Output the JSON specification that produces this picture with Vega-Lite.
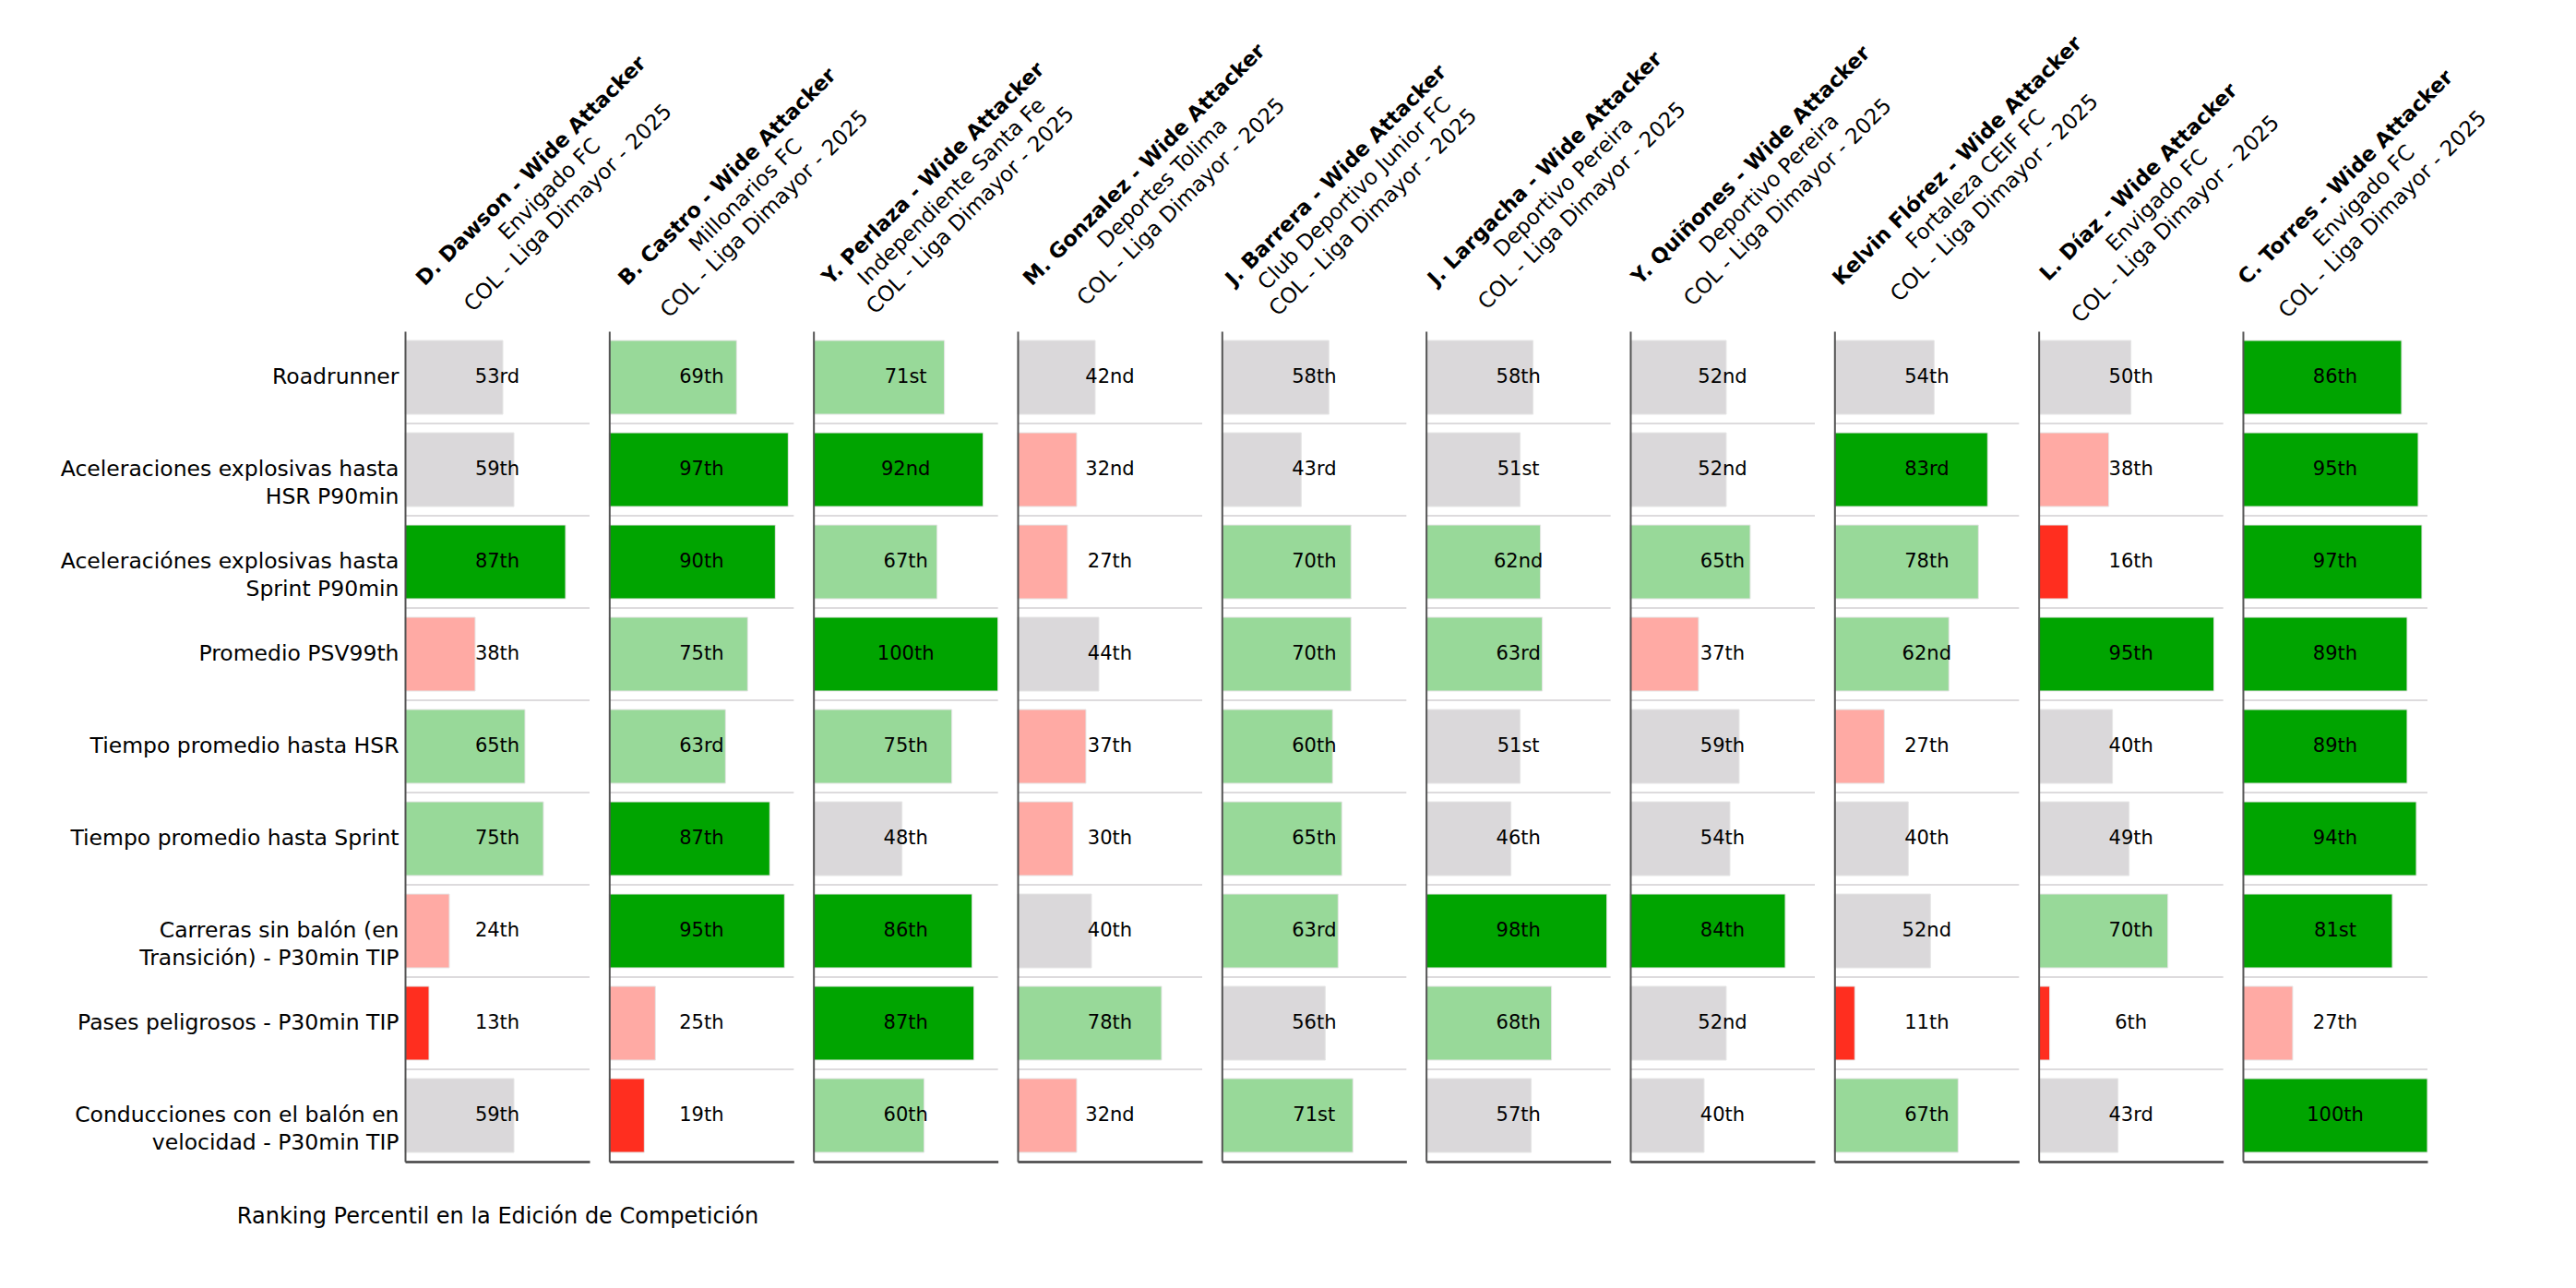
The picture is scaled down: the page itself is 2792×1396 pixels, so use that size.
{
  "$schema": "https://vega.github.io/schema/vega-lite/v6.json",
  "background": "white",
  "autosize": {"type": "pad"},
  "padding": {"left": 65, "top": 35, "right": 5, "bottom": 5},
  "config": {"font": "DejaVu Sans", "view": {"stroke": null}},
  "datasets": {
    "players": [
      {"player": "D. Dawson", "title": "D. Dawson - Wide Attacker", "sub": ["Envigado FC", "COL - Liga Dimayor - 2025"]},
      {"player": "B. Castro", "title": "B. Castro - Wide Attacker", "sub": ["Millonarios FC", "COL - Liga Dimayor - 2025"]},
      {"player": "Y. Perlaza", "title": "Y. Perlaza - Wide Attacker", "sub": ["Independiente Santa Fe", "COL - Liga Dimayor - 2025"]},
      {"player": "M. Gonzalez", "title": "M. Gonzalez - Wide Attacker", "sub": ["Deportes Tolima", "COL - Liga Dimayor - 2025"]},
      {"player": "J. Barrera", "title": "J. Barrera - Wide Attacker", "sub": ["Club Deportivo Junior FC", "COL - Liga Dimayor - 2025"]},
      {"player": "J. Largacha", "title": "J. Largacha - Wide Attacker", "sub": ["Deportivo Pereira", "COL - Liga Dimayor - 2025"]},
      {"player": "Y. Quiñones", "title": "Y. Quiñones - Wide Attacker", "sub": ["Deportivo Pereira", "COL - Liga Dimayor - 2025"]},
      {"player": "Kelvin Flórez", "title": "Kelvin Flórez - Wide Attacker", "sub": ["Fortaleza CEIF FC", "COL - Liga Dimayor - 2025"]},
      {"player": "L. Díaz", "title": "L. Díaz - Wide Attacker", "sub": ["Envigado FC", "COL - Liga Dimayor - 2025"]},
      {"player": "C. Torres", "title": "C. Torres - Wide Attacker", "sub": ["Envigado FC", "COL - Liga Dimayor - 2025"]}
    ],
    "pct": [
      {"player": "D. Dawson", "metric": "Roadrunner", "value": 53, "label": "53rd"},
      {"player": "D. Dawson", "metric": "Aceleraciones explosivas hasta\nHSR P90min", "value": 59, "label": "59th"},
      {"player": "D. Dawson", "metric": "Aceleraciónes explosivas hasta\nSprint P90min", "value": 87, "label": "87th"},
      {"player": "D. Dawson", "metric": "Promedio PSV99th", "value": 38, "label": "38th"},
      {"player": "D. Dawson", "metric": "Tiempo promedio hasta HSR", "value": 65, "label": "65th"},
      {"player": "D. Dawson", "metric": "Tiempo promedio hasta Sprint", "value": 75, "label": "75th"},
      {"player": "D. Dawson", "metric": "Carreras sin balón (en\nTransición) - P30min TIP", "value": 24, "label": "24th"},
      {"player": "D. Dawson", "metric": "Pases peligrosos - P30min TIP", "value": 13, "label": "13th"},
      {"player": "D. Dawson", "metric": "Conducciones con el balón en\nvelocidad - P30min TIP", "value": 59, "label": "59th"},
      {"player": "B. Castro", "metric": "Roadrunner", "value": 69, "label": "69th"},
      {"player": "B. Castro", "metric": "Aceleraciones explosivas hasta\nHSR P90min", "value": 97, "label": "97th"},
      {"player": "B. Castro", "metric": "Aceleraciónes explosivas hasta\nSprint P90min", "value": 90, "label": "90th"},
      {"player": "B. Castro", "metric": "Promedio PSV99th", "value": 75, "label": "75th"},
      {"player": "B. Castro", "metric": "Tiempo promedio hasta HSR", "value": 63, "label": "63rd"},
      {"player": "B. Castro", "metric": "Tiempo promedio hasta Sprint", "value": 87, "label": "87th"},
      {"player": "B. Castro", "metric": "Carreras sin balón (en\nTransición) - P30min TIP", "value": 95, "label": "95th"},
      {"player": "B. Castro", "metric": "Pases peligrosos - P30min TIP", "value": 25, "label": "25th"},
      {"player": "B. Castro", "metric": "Conducciones con el balón en\nvelocidad - P30min TIP", "value": 19, "label": "19th"},
      {"player": "Y. Perlaza", "metric": "Roadrunner", "value": 71, "label": "71st"},
      {"player": "Y. Perlaza", "metric": "Aceleraciones explosivas hasta\nHSR P90min", "value": 92, "label": "92nd"},
      {"player": "Y. Perlaza", "metric": "Aceleraciónes explosivas hasta\nSprint P90min", "value": 67, "label": "67th"},
      {"player": "Y. Perlaza", "metric": "Promedio PSV99th", "value": 100, "label": "100th"},
      {"player": "Y. Perlaza", "metric": "Tiempo promedio hasta HSR", "value": 75, "label": "75th"},
      {"player": "Y. Perlaza", "metric": "Tiempo promedio hasta Sprint", "value": 48, "label": "48th"},
      {"player": "Y. Perlaza", "metric": "Carreras sin balón (en\nTransición) - P30min TIP", "value": 86, "label": "86th"},
      {"player": "Y. Perlaza", "metric": "Pases peligrosos - P30min TIP", "value": 87, "label": "87th"},
      {"player": "Y. Perlaza", "metric": "Conducciones con el balón en\nvelocidad - P30min TIP", "value": 60, "label": "60th"},
      {"player": "M. Gonzalez", "metric": "Roadrunner", "value": 42, "label": "42nd"},
      {"player": "M. Gonzalez", "metric": "Aceleraciones explosivas hasta\nHSR P90min", "value": 32, "label": "32nd"},
      {"player": "M. Gonzalez", "metric": "Aceleraciónes explosivas hasta\nSprint P90min", "value": 27, "label": "27th"},
      {"player": "M. Gonzalez", "metric": "Promedio PSV99th", "value": 44, "label": "44th"},
      {"player": "M. Gonzalez", "metric": "Tiempo promedio hasta HSR", "value": 37, "label": "37th"},
      {"player": "M. Gonzalez", "metric": "Tiempo promedio hasta Sprint", "value": 30, "label": "30th"},
      {"player": "M. Gonzalez", "metric": "Carreras sin balón (en\nTransición) - P30min TIP", "value": 40, "label": "40th"},
      {"player": "M. Gonzalez", "metric": "Pases peligrosos - P30min TIP", "value": 78, "label": "78th"},
      {"player": "M. Gonzalez", "metric": "Conducciones con el balón en\nvelocidad - P30min TIP", "value": 32, "label": "32nd"},
      {"player": "J. Barrera", "metric": "Roadrunner", "value": 58, "label": "58th"},
      {"player": "J. Barrera", "metric": "Aceleraciones explosivas hasta\nHSR P90min", "value": 43, "label": "43rd"},
      {"player": "J. Barrera", "metric": "Aceleraciónes explosivas hasta\nSprint P90min", "value": 70, "label": "70th"},
      {"player": "J. Barrera", "metric": "Promedio PSV99th", "value": 70, "label": "70th"},
      {"player": "J. Barrera", "metric": "Tiempo promedio hasta HSR", "value": 60, "label": "60th"},
      {"player": "J. Barrera", "metric": "Tiempo promedio hasta Sprint", "value": 65, "label": "65th"},
      {"player": "J. Barrera", "metric": "Carreras sin balón (en\nTransición) - P30min TIP", "value": 63, "label": "63rd"},
      {"player": "J. Barrera", "metric": "Pases peligrosos - P30min TIP", "value": 56, "label": "56th"},
      {"player": "J. Barrera", "metric": "Conducciones con el balón en\nvelocidad - P30min TIP", "value": 71, "label": "71st"},
      {"player": "J. Largacha", "metric": "Roadrunner", "value": 58, "label": "58th"},
      {"player": "J. Largacha", "metric": "Aceleraciones explosivas hasta\nHSR P90min", "value": 51, "label": "51st"},
      {"player": "J. Largacha", "metric": "Aceleraciónes explosivas hasta\nSprint P90min", "value": 62, "label": "62nd"},
      {"player": "J. Largacha", "metric": "Promedio PSV99th", "value": 63, "label": "63rd"},
      {"player": "J. Largacha", "metric": "Tiempo promedio hasta HSR", "value": 51, "label": "51st"},
      {"player": "J. Largacha", "metric": "Tiempo promedio hasta Sprint", "value": 46, "label": "46th"},
      {"player": "J. Largacha", "metric": "Carreras sin balón (en\nTransición) - P30min TIP", "value": 98, "label": "98th"},
      {"player": "J. Largacha", "metric": "Pases peligrosos - P30min TIP", "value": 68, "label": "68th"},
      {"player": "J. Largacha", "metric": "Conducciones con el balón en\nvelocidad - P30min TIP", "value": 57, "label": "57th"},
      {"player": "Y. Quiñones", "metric": "Roadrunner", "value": 52, "label": "52nd"},
      {"player": "Y. Quiñones", "metric": "Aceleraciones explosivas hasta\nHSR P90min", "value": 52, "label": "52nd"},
      {"player": "Y. Quiñones", "metric": "Aceleraciónes explosivas hasta\nSprint P90min", "value": 65, "label": "65th"},
      {"player": "Y. Quiñones", "metric": "Promedio PSV99th", "value": 37, "label": "37th"},
      {"player": "Y. Quiñones", "metric": "Tiempo promedio hasta HSR", "value": 59, "label": "59th"},
      {"player": "Y. Quiñones", "metric": "Tiempo promedio hasta Sprint", "value": 54, "label": "54th"},
      {"player": "Y. Quiñones", "metric": "Carreras sin balón (en\nTransición) - P30min TIP", "value": 84, "label": "84th"},
      {"player": "Y. Quiñones", "metric": "Pases peligrosos - P30min TIP", "value": 52, "label": "52nd"},
      {"player": "Y. Quiñones", "metric": "Conducciones con el balón en\nvelocidad - P30min TIP", "value": 40, "label": "40th"},
      {"player": "Kelvin Flórez", "metric": "Roadrunner", "value": 54, "label": "54th"},
      {"player": "Kelvin Flórez", "metric": "Aceleraciones explosivas hasta\nHSR P90min", "value": 83, "label": "83rd"},
      {"player": "Kelvin Flórez", "metric": "Aceleraciónes explosivas hasta\nSprint P90min", "value": 78, "label": "78th"},
      {"player": "Kelvin Flórez", "metric": "Promedio PSV99th", "value": 62, "label": "62nd"},
      {"player": "Kelvin Flórez", "metric": "Tiempo promedio hasta HSR", "value": 27, "label": "27th"},
      {"player": "Kelvin Flórez", "metric": "Tiempo promedio hasta Sprint", "value": 40, "label": "40th"},
      {"player": "Kelvin Flórez", "metric": "Carreras sin balón (en\nTransición) - P30min TIP", "value": 52, "label": "52nd"},
      {"player": "Kelvin Flórez", "metric": "Pases peligrosos - P30min TIP", "value": 11, "label": "11th"},
      {"player": "Kelvin Flórez", "metric": "Conducciones con el balón en\nvelocidad - P30min TIP", "value": 67, "label": "67th"},
      {"player": "L. Díaz", "metric": "Roadrunner", "value": 50, "label": "50th"},
      {"player": "L. Díaz", "metric": "Aceleraciones explosivas hasta\nHSR P90min", "value": 38, "label": "38th"},
      {"player": "L. Díaz", "metric": "Aceleraciónes explosivas hasta\nSprint P90min", "value": 16, "label": "16th"},
      {"player": "L. Díaz", "metric": "Promedio PSV99th", "value": 95, "label": "95th"},
      {"player": "L. Díaz", "metric": "Tiempo promedio hasta HSR", "value": 40, "label": "40th"},
      {"player": "L. Díaz", "metric": "Tiempo promedio hasta Sprint", "value": 49, "label": "49th"},
      {"player": "L. Díaz", "metric": "Carreras sin balón (en\nTransición) - P30min TIP", "value": 70, "label": "70th"},
      {"player": "L. Díaz", "metric": "Pases peligrosos - P30min TIP", "value": 6, "label": "6th"},
      {"player": "L. Díaz", "metric": "Conducciones con el balón en\nvelocidad - P30min TIP", "value": 43, "label": "43rd"},
      {"player": "C. Torres", "metric": "Roadrunner", "value": 86, "label": "86th"},
      {"player": "C. Torres", "metric": "Aceleraciones explosivas hasta\nHSR P90min", "value": 95, "label": "95th"},
      {"player": "C. Torres", "metric": "Aceleraciónes explosivas hasta\nSprint P90min", "value": 97, "label": "97th"},
      {"player": "C. Torres", "metric": "Promedio PSV99th", "value": 89, "label": "89th"},
      {"player": "C. Torres", "metric": "Tiempo promedio hasta HSR", "value": 89, "label": "89th"},
      {"player": "C. Torres", "metric": "Tiempo promedio hasta Sprint", "value": 94, "label": "94th"},
      {"player": "C. Torres", "metric": "Carreras sin balón (en\nTransición) - P30min TIP", "value": 81, "label": "81st"},
      {"player": "C. Torres", "metric": "Pases peligrosos - P30min TIP", "value": 27, "label": "27th"},
      {"player": "C. Torres", "metric": "Conducciones con el balón en\nvelocidad - P30min TIP", "value": 100, "label": "100th"}
    ]
  },
  "spacing": 21.33,
  "bounds": "flush",
  "hconcat": [
    {
      "width": 200, "height": 900,
      "data": {"name": "pct"},
      "transform": [{"filter": "datum.player === 'D. Dawson'"}],
      "encoding": {"y": {"field": "metric", "type": "nominal", "sort": null,
        "scale": {"type": "band", "paddingInner": 0, "paddingOuter": 0, "domain": ["Roadrunner", "Aceleraciones explosivas hasta\nHSR P90min", "Aceleraciónes explosivas hasta\nSprint P90min", "Promedio PSV99th", "Tiempo promedio hasta HSR", "Tiempo promedio hasta Sprint", "Carreras sin balón (en\nTransición) - P30min TIP", "Pases peligrosos - P30min TIP", "Conducciones con el balón en\nvelocidad - P30min TIP"]},
        "axis": {"title": null, "domainColor": "#555555", "domainWidth": 2, "ticks": false, "grid": false, "labels": true, "labelFontSize": 23.5, "labelColor": "#000000", "labelPadding": 7, "labelLimit": 0, "labelLineHeight": 30, "labelExpr": "split(datum.label, '\\n')", "zindex": 1}}},
      "layer": [
        {"mark": {"type": "rule", "color": "#dddbdd", "strokeWidth": 2}, "encoding": {"y": {"field": "metric", "type": "nominal", "sort": null, "bandPosition": 1}, "x": {"datum": 0}, "x2": {"datum": 100}}},
        {"mark": {"type": "bar", "height": {"band": 0.8}, "stroke": "#e6e6e6", "strokeWidth": 1},
          "encoding": {"x": {"field": "value", "type": "quantitative", "scale": {"domain": [0, 100], "nice": false, "zero": true},
            "axis": {"title": "Ranking Percentil en la Edición de Competición", "titleFontSize": 24, "titleFontWeight": "normal", "titleColor": "#000000", "titlePadding": 47, "domainColor": "#444444", "domainWidth": 2.5, "ticks": false, "labels": false, "grid": false, "zindex": 1}},
            "color": {"field": "value", "type": "quantitative", "scale": {"type": "threshold", "domain": [20, 40, 60, 80], "range": ["#ff2e1f", "#ffaaa4", "#dad8da", "#98d999", "#00a400"]}, "legend": null}}},
        {"mark": {"type": "text", "fontSize": 21, "color": "#000000"}, "encoding": {"x": {"datum": 50}, "text": {"field": "label"}}},
        {"data": {"name": "players"}, "transform": [{"filter": "datum.player === 'D. Dawson'"}],
          "mark": {"type": "text", "angle": -45, "align": "center", "baseline": "top", "fontSize": 22.6, "fontWeight": "bold", "color": "#000000", "dx": 219.6, "dy": -37.0},
          "encoding": {"x": {"datum": 0}, "y": {"datum": "Roadrunner", "type": "nominal", "bandPosition": 0}, "text": {"field": "title"}}},
        {"data": {"name": "players"}, "transform": [{"filter": "datum.player === 'D. Dawson'"}],
          "mark": {"type": "text", "angle": -45, "align": "center", "baseline": "top", "fontSize": 23.2, "lineHeight": 28.6, "color": "#000000", "dx": 219.6, "dy": -8.7},
          "encoding": {"x": {"datum": 0}, "y": {"datum": "Roadrunner", "type": "nominal", "bandPosition": 0}, "text": {"field": "sub"}}}
      ]
    },
    {
      "width": 200, "height": 900,
      "data": {"name": "pct"},
      "transform": [{"filter": "datum.player === 'B. Castro'"}],
      "encoding": {"y": {"field": "metric", "type": "nominal", "sort": null,
        "scale": {"type": "band", "paddingInner": 0, "paddingOuter": 0, "domain": ["Roadrunner", "Aceleraciones explosivas hasta\nHSR P90min", "Aceleraciónes explosivas hasta\nSprint P90min", "Promedio PSV99th", "Tiempo promedio hasta HSR", "Tiempo promedio hasta Sprint", "Carreras sin balón (en\nTransición) - P30min TIP", "Pases peligrosos - P30min TIP", "Conducciones con el balón en\nvelocidad - P30min TIP"]},
        "axis": {"title": null, "domainColor": "#555555", "domainWidth": 2, "ticks": false, "grid": false, "labels": false, "zindex": 1}}},
      "layer": [
        {"mark": {"type": "rule", "color": "#dddbdd", "strokeWidth": 2}, "encoding": {"y": {"field": "metric", "type": "nominal", "sort": null, "bandPosition": 1}, "x": {"datum": 0}, "x2": {"datum": 100}}},
        {"mark": {"type": "bar", "height": {"band": 0.8}, "stroke": "#e6e6e6", "strokeWidth": 1},
          "encoding": {"x": {"field": "value", "type": "quantitative", "scale": {"domain": [0, 100], "nice": false, "zero": true}, "axis": {"title": null, "domainColor": "#444444", "domainWidth": 2.5, "ticks": false, "labels": false, "grid": false, "zindex": 1}},
            "color": {"field": "value", "type": "quantitative", "scale": {"type": "threshold", "domain": [20, 40, 60, 80], "range": ["#ff2e1f", "#ffaaa4", "#dad8da", "#98d999", "#00a400"]}, "legend": null}}},
        {"mark": {"type": "text", "fontSize": 21, "color": "#000000"}, "encoding": {"x": {"datum": 50}, "text": {"field": "label"}}},
        {"data": {"name": "players"}, "transform": [{"filter": "datum.player === 'B. Castro'"}],
          "mark": {"type": "text", "angle": -45, "align": "center", "baseline": "top", "fontSize": 22.6, "fontWeight": "bold", "color": "#000000", "dx": 208.8, "dy": -38.5},
          "encoding": {"x": {"datum": 0}, "y": {"datum": "Roadrunner", "type": "nominal", "bandPosition": 0}, "text": {"field": "title"}}},
        {"data": {"name": "players"}, "transform": [{"filter": "datum.player === 'B. Castro'"}],
          "mark": {"type": "text", "angle": -45, "align": "center", "baseline": "top", "fontSize": 23.2, "lineHeight": 28.6, "color": "#000000", "dx": 208.8, "dy": -10.2},
          "encoding": {"x": {"datum": 0}, "y": {"datum": "Roadrunner", "type": "nominal", "bandPosition": 0}, "text": {"field": "sub"}}}
      ]
    },
    {
      "width": 200, "height": 900,
      "data": {"name": "pct"},
      "transform": [{"filter": "datum.player === 'Y. Perlaza'"}],
      "encoding": {"y": {"field": "metric", "type": "nominal", "sort": null,
        "scale": {"type": "band", "paddingInner": 0, "paddingOuter": 0, "domain": ["Roadrunner", "Aceleraciones explosivas hasta\nHSR P90min", "Aceleraciónes explosivas hasta\nSprint P90min", "Promedio PSV99th", "Tiempo promedio hasta HSR", "Tiempo promedio hasta Sprint", "Carreras sin balón (en\nTransición) - P30min TIP", "Pases peligrosos - P30min TIP", "Conducciones con el balón en\nvelocidad - P30min TIP"]},
        "axis": {"title": null, "domainColor": "#555555", "domainWidth": 2, "ticks": false, "grid": false, "labels": false, "zindex": 1}}},
      "layer": [
        {"mark": {"type": "rule", "color": "#dddbdd", "strokeWidth": 2}, "encoding": {"y": {"field": "metric", "type": "nominal", "sort": null, "bandPosition": 1}, "x": {"datum": 0}, "x2": {"datum": 100}}},
        {"mark": {"type": "bar", "height": {"band": 0.8}, "stroke": "#e6e6e6", "strokeWidth": 1},
          "encoding": {"x": {"field": "value", "type": "quantitative", "scale": {"domain": [0, 100], "nice": false, "zero": true}, "axis": {"title": null, "domainColor": "#444444", "domainWidth": 2.5, "ticks": false, "labels": false, "grid": false, "zindex": 1}},
            "color": {"field": "value", "type": "quantitative", "scale": {"type": "threshold", "domain": [20, 40, 60, 80], "range": ["#ff2e1f", "#ffaaa4", "#dad8da", "#98d999", "#00a400"]}, "legend": null}}},
        {"mark": {"type": "text", "fontSize": 21, "color": "#000000"}, "encoding": {"x": {"datum": 50}, "text": {"field": "label"}}},
        {"data": {"name": "players"}, "transform": [{"filter": "datum.player === 'Y. Perlaza'"}],
          "mark": {"type": "text", "angle": -45, "align": "center", "baseline": "top", "fontSize": 22.6, "fontWeight": "bold", "color": "#000000", "dx": 212.8, "dy": -39.9},
          "encoding": {"x": {"datum": 0}, "y": {"datum": "Roadrunner", "type": "nominal", "bandPosition": 0}, "text": {"field": "title"}}},
        {"data": {"name": "players"}, "transform": [{"filter": "datum.player === 'Y. Perlaza'"}],
          "mark": {"type": "text", "angle": -45, "align": "center", "baseline": "top", "fontSize": 23.2, "lineHeight": 28.6, "color": "#000000", "dx": 212.8, "dy": -11.6},
          "encoding": {"x": {"datum": 0}, "y": {"datum": "Roadrunner", "type": "nominal", "bandPosition": 0}, "text": {"field": "sub"}}}
      ]
    },
    {
      "width": 200, "height": 900,
      "data": {"name": "pct"},
      "transform": [{"filter": "datum.player === 'M. Gonzalez'"}],
      "encoding": {"y": {"field": "metric", "type": "nominal", "sort": null,
        "scale": {"type": "band", "paddingInner": 0, "paddingOuter": 0, "domain": ["Roadrunner", "Aceleraciones explosivas hasta\nHSR P90min", "Aceleraciónes explosivas hasta\nSprint P90min", "Promedio PSV99th", "Tiempo promedio hasta HSR", "Tiempo promedio hasta Sprint", "Carreras sin balón (en\nTransición) - P30min TIP", "Pases peligrosos - P30min TIP", "Conducciones con el balón en\nvelocidad - P30min TIP"]},
        "axis": {"title": null, "domainColor": "#555555", "domainWidth": 2, "ticks": false, "grid": false, "labels": false, "zindex": 1}}},
      "layer": [
        {"mark": {"type": "rule", "color": "#dddbdd", "strokeWidth": 2}, "encoding": {"y": {"field": "metric", "type": "nominal", "sort": null, "bandPosition": 1}, "x": {"datum": 0}, "x2": {"datum": 100}}},
        {"mark": {"type": "bar", "height": {"band": 0.8}, "stroke": "#e6e6e6", "strokeWidth": 1},
          "encoding": {"x": {"field": "value", "type": "quantitative", "scale": {"domain": [0, 100], "nice": false, "zero": true}, "axis": {"title": null, "domainColor": "#444444", "domainWidth": 2.5, "ticks": false, "labels": false, "grid": false, "zindex": 1}},
            "color": {"field": "value", "type": "quantitative", "scale": {"type": "threshold", "domain": [20, 40, 60, 80], "range": ["#ff2e1f", "#ffaaa4", "#dad8da", "#98d999", "#00a400"]}, "legend": null}}},
        {"mark": {"type": "text", "fontSize": 21, "color": "#000000"}, "encoding": {"x": {"datum": 50}, "text": {"field": "label"}}},
        {"data": {"name": "players"}, "transform": [{"filter": "datum.player === 'M. Gonzalez'"}],
          "mark": {"type": "text", "angle": -45, "align": "center", "baseline": "top", "fontSize": 22.6, "fontWeight": "bold", "color": "#000000", "dx": 224.6, "dy": -41.3},
          "encoding": {"x": {"datum": 0}, "y": {"datum": "Roadrunner", "type": "nominal", "bandPosition": 0}, "text": {"field": "title"}}},
        {"data": {"name": "players"}, "transform": [{"filter": "datum.player === 'M. Gonzalez'"}],
          "mark": {"type": "text", "angle": -45, "align": "center", "baseline": "top", "fontSize": 23.2, "lineHeight": 28.6, "color": "#000000", "dx": 224.6, "dy": -13.0},
          "encoding": {"x": {"datum": 0}, "y": {"datum": "Roadrunner", "type": "nominal", "bandPosition": 0}, "text": {"field": "sub"}}}
      ]
    },
    {
      "width": 200, "height": 900,
      "data": {"name": "pct"},
      "transform": [{"filter": "datum.player === 'J. Barrera'"}],
      "encoding": {"y": {"field": "metric", "type": "nominal", "sort": null,
        "scale": {"type": "band", "paddingInner": 0, "paddingOuter": 0, "domain": ["Roadrunner", "Aceleraciones explosivas hasta\nHSR P90min", "Aceleraciónes explosivas hasta\nSprint P90min", "Promedio PSV99th", "Tiempo promedio hasta HSR", "Tiempo promedio hasta Sprint", "Carreras sin balón (en\nTransición) - P30min TIP", "Pases peligrosos - P30min TIP", "Conducciones con el balón en\nvelocidad - P30min TIP"]},
        "axis": {"title": null, "domainColor": "#555555", "domainWidth": 2, "ticks": false, "grid": false, "labels": false, "zindex": 1}}},
      "layer": [
        {"mark": {"type": "rule", "color": "#dddbdd", "strokeWidth": 2}, "encoding": {"y": {"field": "metric", "type": "nominal", "sort": null, "bandPosition": 1}, "x": {"datum": 0}, "x2": {"datum": 100}}},
        {"mark": {"type": "bar", "height": {"band": 0.8}, "stroke": "#e6e6e6", "strokeWidth": 1},
          "encoding": {"x": {"field": "value", "type": "quantitative", "scale": {"domain": [0, 100], "nice": false, "zero": true}, "axis": {"title": null, "domainColor": "#444444", "domainWidth": 2.5, "ticks": false, "labels": false, "grid": false, "zindex": 1}},
            "color": {"field": "value", "type": "quantitative", "scale": {"type": "threshold", "domain": [20, 40, 60, 80], "range": ["#ff2e1f", "#ffaaa4", "#dad8da", "#98d999", "#00a400"]}, "legend": null}}},
        {"mark": {"type": "text", "fontSize": 21, "color": "#000000"}, "encoding": {"x": {"datum": 50}, "text": {"field": "label"}}},
        {"data": {"name": "players"}, "transform": [{"filter": "datum.player === 'J. Barrera'"}],
          "mark": {"type": "text", "angle": -45, "align": "center", "baseline": "top", "fontSize": 22.6, "fontWeight": "bold", "color": "#000000", "dx": 207.0, "dy": -42.8},
          "encoding": {"x": {"datum": 0}, "y": {"datum": "Roadrunner", "type": "nominal", "bandPosition": 0}, "text": {"field": "title"}}},
        {"data": {"name": "players"}, "transform": [{"filter": "datum.player === 'J. Barrera'"}],
          "mark": {"type": "text", "angle": -45, "align": "center", "baseline": "top", "fontSize": 23.2, "lineHeight": 28.6, "color": "#000000", "dx": 207.0, "dy": -14.5},
          "encoding": {"x": {"datum": 0}, "y": {"datum": "Roadrunner", "type": "nominal", "bandPosition": 0}, "text": {"field": "sub"}}}
      ]
    },
    {
      "width": 200, "height": 900,
      "data": {"name": "pct"},
      "transform": [{"filter": "datum.player === 'J. Largacha'"}],
      "encoding": {"y": {"field": "metric", "type": "nominal", "sort": null,
        "scale": {"type": "band", "paddingInner": 0, "paddingOuter": 0, "domain": ["Roadrunner", "Aceleraciones explosivas hasta\nHSR P90min", "Aceleraciónes explosivas hasta\nSprint P90min", "Promedio PSV99th", "Tiempo promedio hasta HSR", "Tiempo promedio hasta Sprint", "Carreras sin balón (en\nTransición) - P30min TIP", "Pases peligrosos - P30min TIP", "Conducciones con el balón en\nvelocidad - P30min TIP"]},
        "axis": {"title": null, "domainColor": "#555555", "domainWidth": 2, "ticks": false, "grid": false, "labels": false, "zindex": 1}}},
      "layer": [
        {"mark": {"type": "rule", "color": "#dddbdd", "strokeWidth": 2}, "encoding": {"y": {"field": "metric", "type": "nominal", "sort": null, "bandPosition": 1}, "x": {"datum": 0}, "x2": {"datum": 100}}},
        {"mark": {"type": "bar", "height": {"band": 0.8}, "stroke": "#e6e6e6", "strokeWidth": 1},
          "encoding": {"x": {"field": "value", "type": "quantitative", "scale": {"domain": [0, 100], "nice": false, "zero": true}, "axis": {"title": null, "domainColor": "#444444", "domainWidth": 2.5, "ticks": false, "labels": false, "grid": false, "zindex": 1}},
            "color": {"field": "value", "type": "quantitative", "scale": {"type": "threshold", "domain": [20, 40, 60, 80], "range": ["#ff2e1f", "#ffaaa4", "#dad8da", "#98d999", "#00a400"]}, "legend": null}}},
        {"mark": {"type": "text", "fontSize": 21, "color": "#000000"}, "encoding": {"x": {"datum": 50}, "text": {"field": "label"}}},
        {"data": {"name": "players"}, "transform": [{"filter": "datum.player === 'J. Largacha'"}],
          "mark": {"type": "text", "angle": -45, "align": "center", "baseline": "top", "fontSize": 22.6, "fontWeight": "bold", "color": "#000000", "dx": 215.7, "dy": -44.2},
          "encoding": {"x": {"datum": 0}, "y": {"datum": "Roadrunner", "type": "nominal", "bandPosition": 0}, "text": {"field": "title"}}},
        {"data": {"name": "players"}, "transform": [{"filter": "datum.player === 'J. Largacha'"}],
          "mark": {"type": "text", "angle": -45, "align": "center", "baseline": "top", "fontSize": 23.2, "lineHeight": 28.6, "color": "#000000", "dx": 215.7, "dy": -15.9},
          "encoding": {"x": {"datum": 0}, "y": {"datum": "Roadrunner", "type": "nominal", "bandPosition": 0}, "text": {"field": "sub"}}}
      ]
    },
    {
      "width": 200, "height": 900,
      "data": {"name": "pct"},
      "transform": [{"filter": "datum.player === 'Y. Quiñones'"}],
      "encoding": {"y": {"field": "metric", "type": "nominal", "sort": null,
        "scale": {"type": "band", "paddingInner": 0, "paddingOuter": 0, "domain": ["Roadrunner", "Aceleraciones explosivas hasta\nHSR P90min", "Aceleraciónes explosivas hasta\nSprint P90min", "Promedio PSV99th", "Tiempo promedio hasta HSR", "Tiempo promedio hasta Sprint", "Carreras sin balón (en\nTransición) - P30min TIP", "Pases peligrosos - P30min TIP", "Conducciones con el balón en\nvelocidad - P30min TIP"]},
        "axis": {"title": null, "domainColor": "#555555", "domainWidth": 2, "ticks": false, "grid": false, "labels": false, "zindex": 1}}},
      "layer": [
        {"mark": {"type": "rule", "color": "#dddbdd", "strokeWidth": 2}, "encoding": {"y": {"field": "metric", "type": "nominal", "sort": null, "bandPosition": 1}, "x": {"datum": 0}, "x2": {"datum": 100}}},
        {"mark": {"type": "bar", "height": {"band": 0.8}, "stroke": "#e6e6e6", "strokeWidth": 1},
          "encoding": {"x": {"field": "value", "type": "quantitative", "scale": {"domain": [0, 100], "nice": false, "zero": true}, "axis": {"title": null, "domainColor": "#444444", "domainWidth": 2.5, "ticks": false, "labels": false, "grid": false, "zindex": 1}},
            "color": {"field": "value", "type": "quantitative", "scale": {"type": "threshold", "domain": [20, 40, 60, 80], "range": ["#ff2e1f", "#ffaaa4", "#dad8da", "#98d999", "#00a400"]}, "legend": null}}},
        {"mark": {"type": "text", "fontSize": 21, "color": "#000000"}, "encoding": {"x": {"datum": 50}, "text": {"field": "label"}}},
        {"data": {"name": "players"}, "transform": [{"filter": "datum.player === 'Y. Quiñones'"}],
          "mark": {"type": "text", "angle": -45, "align": "center", "baseline": "top", "fontSize": 22.6, "fontWeight": "bold", "color": "#000000", "dx": 219.6, "dy": -45.6},
          "encoding": {"x": {"datum": 0}, "y": {"datum": "Roadrunner", "type": "nominal", "bandPosition": 0}, "text": {"field": "title"}}},
        {"data": {"name": "players"}, "transform": [{"filter": "datum.player === 'Y. Quiñones'"}],
          "mark": {"type": "text", "angle": -45, "align": "center", "baseline": "top", "fontSize": 23.2, "lineHeight": 28.6, "color": "#000000", "dx": 219.6, "dy": -17.3},
          "encoding": {"x": {"datum": 0}, "y": {"datum": "Roadrunner", "type": "nominal", "bandPosition": 0}, "text": {"field": "sub"}}}
      ]
    },
    {
      "width": 200, "height": 900,
      "data": {"name": "pct"},
      "transform": [{"filter": "datum.player === 'Kelvin Flórez'"}],
      "encoding": {"y": {"field": "metric", "type": "nominal", "sort": null,
        "scale": {"type": "band", "paddingInner": 0, "paddingOuter": 0, "domain": ["Roadrunner", "Aceleraciones explosivas hasta\nHSR P90min", "Aceleraciónes explosivas hasta\nSprint P90min", "Promedio PSV99th", "Tiempo promedio hasta HSR", "Tiempo promedio hasta Sprint", "Carreras sin balón (en\nTransición) - P30min TIP", "Pases peligrosos - P30min TIP", "Conducciones con el balón en\nvelocidad - P30min TIP"]},
        "axis": {"title": null, "domainColor": "#555555", "domainWidth": 2, "ticks": false, "grid": false, "labels": false, "zindex": 1}}},
      "layer": [
        {"mark": {"type": "rule", "color": "#dddbdd", "strokeWidth": 2}, "encoding": {"y": {"field": "metric", "type": "nominal", "sort": null, "bandPosition": 1}, "x": {"datum": 0}, "x2": {"datum": 100}}},
        {"mark": {"type": "bar", "height": {"band": 0.8}, "stroke": "#e6e6e6", "strokeWidth": 1},
          "encoding": {"x": {"field": "value", "type": "quantitative", "scale": {"domain": [0, 100], "nice": false, "zero": true}, "axis": {"title": null, "domainColor": "#444444", "domainWidth": 2.5, "ticks": false, "labels": false, "grid": false, "zindex": 1}},
            "color": {"field": "value", "type": "quantitative", "scale": {"type": "threshold", "domain": [20, 40, 60, 80], "range": ["#ff2e1f", "#ffaaa4", "#dad8da", "#98d999", "#00a400"]}, "legend": null}}},
        {"mark": {"type": "text", "fontSize": 21, "color": "#000000"}, "encoding": {"x": {"datum": 50}, "text": {"field": "label"}}},
        {"data": {"name": "players"}, "transform": [{"filter": "datum.player === 'Kelvin Flórez'"}],
          "mark": {"type": "text", "angle": -45, "align": "center", "baseline": "top", "fontSize": 22.6, "fontWeight": "bold", "color": "#000000", "dx": 224.7, "dy": -47.1},
          "encoding": {"x": {"datum": 0}, "y": {"datum": "Roadrunner", "type": "nominal", "bandPosition": 0}, "text": {"field": "title"}}},
        {"data": {"name": "players"}, "transform": [{"filter": "datum.player === 'Kelvin Flórez'"}],
          "mark": {"type": "text", "angle": -45, "align": "center", "baseline": "top", "fontSize": 23.2, "lineHeight": 28.6, "color": "#000000", "dx": 224.7, "dy": -18.8},
          "encoding": {"x": {"datum": 0}, "y": {"datum": "Roadrunner", "type": "nominal", "bandPosition": 0}, "text": {"field": "sub"}}}
      ]
    },
    {
      "width": 200, "height": 900,
      "data": {"name": "pct"},
      "transform": [{"filter": "datum.player === 'L. Díaz'"}],
      "encoding": {"y": {"field": "metric", "type": "nominal", "sort": null,
        "scale": {"type": "band", "paddingInner": 0, "paddingOuter": 0, "domain": ["Roadrunner", "Aceleraciones explosivas hasta\nHSR P90min", "Aceleraciónes explosivas hasta\nSprint P90min", "Promedio PSV99th", "Tiempo promedio hasta HSR", "Tiempo promedio hasta Sprint", "Carreras sin balón (en\nTransición) - P30min TIP", "Pases peligrosos - P30min TIP", "Conducciones con el balón en\nvelocidad - P30min TIP"]},
        "axis": {"title": null, "domainColor": "#555555", "domainWidth": 2, "ticks": false, "grid": false, "labels": false, "zindex": 1}}},
      "layer": [
        {"mark": {"type": "rule", "color": "#dddbdd", "strokeWidth": 2}, "encoding": {"y": {"field": "metric", "type": "nominal", "sort": null, "bandPosition": 1}, "x": {"datum": 0}, "x2": {"datum": 100}}},
        {"mark": {"type": "bar", "height": {"band": 0.8}, "stroke": "#e6e6e6", "strokeWidth": 1},
          "encoding": {"x": {"field": "value", "type": "quantitative", "scale": {"domain": [0, 100], "nice": false, "zero": true}, "axis": {"title": null, "domainColor": "#444444", "domainWidth": 2.5, "ticks": false, "labels": false, "grid": false, "zindex": 1}},
            "color": {"field": "value", "type": "quantitative", "scale": {"type": "threshold", "domain": [20, 40, 60, 80], "range": ["#ff2e1f", "#ffaaa4", "#dad8da", "#98d999", "#00a400"]}, "legend": null}}},
        {"mark": {"type": "text", "fontSize": 21, "color": "#000000"}, "encoding": {"x": {"datum": 50}, "text": {"field": "label"}}},
        {"data": {"name": "players"}, "transform": [{"filter": "datum.player === 'L. Díaz'"}],
          "mark": {"type": "text", "angle": -45, "align": "center", "baseline": "top", "fontSize": 22.6, "fontWeight": "bold", "color": "#000000", "dx": 190.8, "dy": -48.5},
          "encoding": {"x": {"datum": 0}, "y": {"datum": "Roadrunner", "type": "nominal", "bandPosition": 0}, "text": {"field": "title"}}},
        {"data": {"name": "players"}, "transform": [{"filter": "datum.player === 'L. Díaz'"}],
          "mark": {"type": "text", "angle": -45, "align": "center", "baseline": "top", "fontSize": 23.2, "lineHeight": 28.6, "color": "#000000", "dx": 190.8, "dy": -20.2},
          "encoding": {"x": {"datum": 0}, "y": {"datum": "Roadrunner", "type": "nominal", "bandPosition": 0}, "text": {"field": "sub"}}}
      ]
    },
    {
      "width": 200, "height": 900,
      "data": {"name": "pct"},
      "transform": [{"filter": "datum.player === 'C. Torres'"}],
      "encoding": {"y": {"field": "metric", "type": "nominal", "sort": null,
        "scale": {"type": "band", "paddingInner": 0, "paddingOuter": 0, "domain": ["Roadrunner", "Aceleraciones explosivas hasta\nHSR P90min", "Aceleraciónes explosivas hasta\nSprint P90min", "Promedio PSV99th", "Tiempo promedio hasta HSR", "Tiempo promedio hasta Sprint", "Carreras sin balón (en\nTransición) - P30min TIP", "Pases peligrosos - P30min TIP", "Conducciones con el balón en\nvelocidad - P30min TIP"]},
        "axis": {"title": null, "domainColor": "#555555", "domainWidth": 2, "ticks": false, "grid": false, "labels": false, "zindex": 1}}},
      "layer": [
        {"mark": {"type": "rule", "color": "#dddbdd", "strokeWidth": 2}, "encoding": {"y": {"field": "metric", "type": "nominal", "sort": null, "bandPosition": 1}, "x": {"datum": 0}, "x2": {"datum": 100}}},
        {"mark": {"type": "bar", "height": {"band": 0.8}, "stroke": "#e6e6e6", "strokeWidth": 1},
          "encoding": {"x": {"field": "value", "type": "quantitative", "scale": {"domain": [0, 100], "nice": false, "zero": true}, "axis": {"title": null, "domainColor": "#444444", "domainWidth": 2.5, "ticks": false, "labels": false, "grid": false, "zindex": 1}},
            "color": {"field": "value", "type": "quantitative", "scale": {"type": "threshold", "domain": [20, 40, 60, 80], "range": ["#ff2e1f", "#ffaaa4", "#dad8da", "#98d999", "#00a400"]}, "legend": null}}},
        {"mark": {"type": "text", "fontSize": 21, "color": "#000000"}, "encoding": {"x": {"datum": 50}, "text": {"field": "label"}}},
        {"data": {"name": "players"}, "transform": [{"filter": "datum.player === 'C. Torres'"}],
          "mark": {"type": "text", "angle": -45, "align": "center", "baseline": "top", "fontSize": 22.6, "fontWeight": "bold", "color": "#000000", "dx": 196.6, "dy": -49.9},
          "encoding": {"x": {"datum": 0}, "y": {"datum": "Roadrunner", "type": "nominal", "bandPosition": 0}, "text": {"field": "title"}}},
        {"data": {"name": "players"}, "transform": [{"filter": "datum.player === 'C. Torres'"}],
          "mark": {"type": "text", "angle": -45, "align": "center", "baseline": "top", "fontSize": 23.2, "lineHeight": 28.6, "color": "#000000", "dx": 196.6, "dy": -21.6},
          "encoding": {"x": {"datum": 0}, "y": {"datum": "Roadrunner", "type": "nominal", "bandPosition": 0}, "text": {"field": "sub"}}}
      ]
    }
  ]
}
